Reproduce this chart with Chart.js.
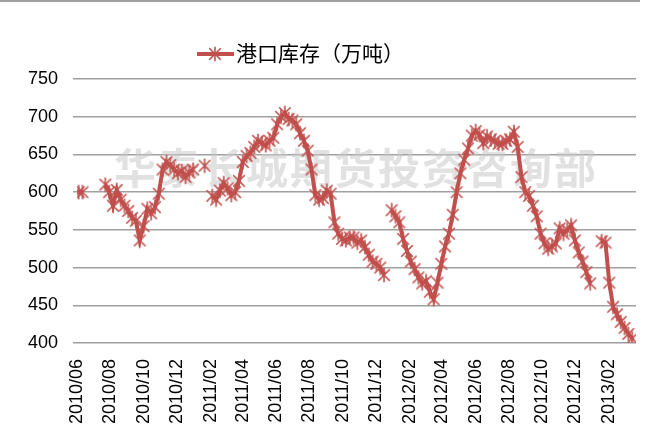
<!DOCTYPE html>
<html>
<head>
<meta charset="utf-8">
<script src="https://cdn.jsdelivr.net/npm/chart.js@4/dist/chart.umd.min.js"></script>
<style>
  html, body { margin: 0; padding: 0; background: #fff; }
  #wrap { position: relative; width: 648px; height: 438px; }
</style>
</head>
<body>
<div id="wrap"><canvas id="stockChart" width="648" height="438"></canvas></div>
<script>
// weekly port inventory (10k tons), first week 2010-06-04, null = no data
const firstWeekDay = 3; // days after 2010-06-01
const inventory = [
    600, 600, null, null, null, null, null, 610, 600, 582,
    603, 590, 582, 575, 566, 562, 536, 555, 578, 572,
    580, 598, 630, 640, 636, 630, 625, 628, 620, 626,
    630, null, null, 635, null, 595, 590, 602, 612, 605,
    596, 600, 615, 640, 648, 652, 660, 668, 665, 662,
    668, 672, 690, 700, 705, 697, 695, 690, 678, 668,
    655, 630, 596, 590, 592, 602, 598, 560, 545, 538,
    536, 540, 540, 533, 536, 527, 517, 508, 505, 500,
    490, null, 576, 568, 560, 538, 522, 508, 498, 487,
    479, 482, 468, 458, 480, 505, 528, 545, 570, 600,
    625, 643, 658, 675, 681, 676, 665, 674, 670, 668,
    664, 664, 668, 670, 680, 660, 620, 600, 595, 582,
    568, 545, 532, 525, 528, 532, 552, 545, 550, 556,
    536, 520, 508, 494, 479, null, null, 535, 533, 480,
    448, 438, 428, 420, 412, 406
];
const tickLabels = [
    '2010/06', '2010/08', '2010/10', '2010/12', '2011/02', '2011/04',
    '2011/06', '2011/08', '2011/10', '2011/12', '2012/02', '2012/04',
    '2012/06', '2012/08', '2012/10', '2012/12', '2013/02'
];
const yTicks = [400, 450, 500, 550, 600, 650, 700, 750];
const seriesName = '港口库存（万吨）';
const watermark = '华泰长城期货投资咨询部';

const RED = '#C0504D';
const origin = Date.UTC(2010, 5, 1);

function dayOfLabel(label) {
    const [y, m] = label.split('/').map(Number);
    return Math.round((Date.UTC(y, m - 1, 1) - origin) / 86400000);
}

// star marker like the office chart one
function makeStar(size) {
    const c = document.createElement('canvas');
    c.width = size; c.height = size;
    const g = c.getContext('2d');
    const m = size / 2, r = size / 2 - 0.8;
    g.strokeStyle = RED;
    g.lineWidth = 1.6;
    g.beginPath();
    g.moveTo(m, m - r); g.lineTo(m, m + r);
    g.moveTo(m - r * 0.8, m - r * 0.8); g.lineTo(m + r * 0.8, m + r * 0.8);
    g.moveTo(m + r * 0.8, m - r * 0.8); g.lineTo(m - r * 0.8, m + r * 0.8);
    g.stroke();
    return c;
}
const star = makeStar(16);

const points = inventory.map((v, i) => ({ x: firstWeekDay + 7 * i, y: v }));

const watermarkPlugin = {
    id: 'watermark',
    beforeDatasetsDraw(chart) {
        const ctx = chart.ctx;
        ctx.save();
        ctx.font = 'bold 42px "Noto Sans CJK SC"';
        ctx.letterSpacing = '2px';
        ctx.fillStyle = 'rgba(200,200,200,0.55)';
        ctx.textAlign = 'center';
        ctx.textBaseline = 'middle';
        ctx.fillText(watermark, 356, 168);
        ctx.restore();
    }
};

const legendPlugin = {
    id: 'lineLegend',
    afterDraw(chart) {
        const ctx = chart.ctx;
        ctx.save();
        ctx.strokeStyle = RED;
        ctx.lineWidth = 4;
        ctx.beginPath();
        ctx.moveTo(197, 54);
        ctx.lineTo(234, 54);
        ctx.stroke();
        ctx.drawImage(star, 215 - 8, 54 - 8);
        ctx.font = '21px "Noto Sans CJK SC"';
        ctx.fillStyle = '#000';
        ctx.textBaseline = 'middle';
        ctx.fillText(seriesName, 236, 53);
        // frame line at the top
        ctx.strokeStyle = '#7f7f7f';
        ctx.lineWidth = 1.5;
        ctx.beginPath();
        ctx.moveTo(0, 1);
        ctx.lineTo(640, 1);
        ctx.stroke();
        ctx.restore();
    }
};

new Chart(document.getElementById('stockChart'), {
    type: 'line',
    data: {
        datasets: [{
            label: seriesName,
            data: points,
            borderColor: RED,
            backgroundColor: RED,
            borderWidth: 4,
            pointStyle: star,
            spanGaps: false,
            tension: 0
        }]
    },
    options: {
        responsive: false,
        animation: false,
        events: [],
        layout: { padding: { top: 79, right: 12, left: 0, bottom: 0 } },
        plugins: { legend: { display: false }, tooltip: { enabled: false } },
        scales: {
            x: {
                type: 'linear',
                min: 0,
                max: 1025,
                afterBuildTicks(axis) {
                    axis.ticks = tickLabels.map(l => ({ value: dayOfLabel(l) }));
                },
                afterFit(axis) { axis.height = 95; },
                grid: { display: false },
                border: { display: false },
                ticks: {
                    autoSkip: false,
                    maxRotation: 90,
                    minRotation: 90,
                    padding: 8,
                    color: '#000',
                    font: { family: '"Liberation Sans", Arial', size: 18 },
                    callback: (v, i) => tickLabels[i]
                }
            },
            y: {
                min: 400,
                max: 750,
                afterBuildTicks(axis) {
                    axis.ticks = yTicks.map(v => ({ value: v }));
                },
                afterFit(axis) { axis.width = 77; },
                grid: { color: '#a0a0a0', lineWidth: 1.5, tickLength: 4 },
                border: { display: false },
                ticks: {
                    padding: 15,
                    color: '#000',
                    font: { family: '"Liberation Sans", Arial', size: 18 }
                }
            }
        }
    },
    plugins: [watermarkPlugin, legendPlugin]
});
</script>
</body>
</html>
